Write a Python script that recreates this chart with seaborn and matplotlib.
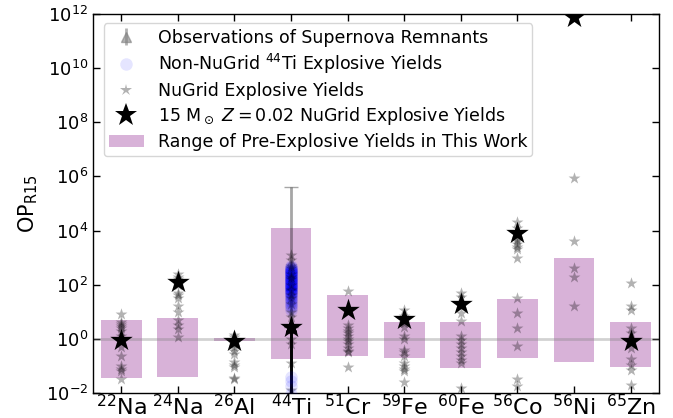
import numpy as np
import pandas as pd
import matplotlib
matplotlib.use("Agg")
import matplotlib.pyplot as plt
import seaborn as sns
from matplotlib.lines import Line2D
from matplotlib.patches import Patch

sns.set_style("ticks")
plt.rcParams['font.family'] = ['DejaVu Sans']
plt.rcParams['mathtext.fontset'] = 'dejavusans'
plt.rcParams['text.color'] = 'black'
plt.rcParams['axes.labelcolor'] = 'black'
plt.rcParams['xtick.color'] = 'black'
plt.rcParams['ytick.color'] = 'black'

# ---------------- data (log10 of OP_R15) ----------------
isotopes = [r'$^{22}$Na', r'$^{24}$Na', r'$^{26}$Al', r'$^{44}$Ti', r'$^{51}$Cr',
            r'$^{59}$Fe', r'$^{60}$Fe', r'$^{56}$Co', r'$^{56}$Ni', r'$^{65}$Zn']

range_lo = [-1.46, -1.42, -0.09, -0.74, -0.63, -0.72, -1.09, -0.72, -0.87, -1.04]
range_hi = [0.70, 0.78, 0.02, 4.11, 1.62, 0.61, 0.62, 1.46, 3.00, 0.62]

star15 = [-0.04, 2.11, -0.07, 0.45, 1.07, 0.72, 1.28, 3.90, 11.88, -0.07]

nugrid_na22 = [0.92, 0.62, 0.55, 0.48, 0.40, 0.30, 0.10, -0.30, -0.65, -1.00, -1.10, -1.20, -1.50]
nugrid_na24 = [2.40, 2.30, 2.20, 2.00, 1.70, 1.60, 1.50, 1.20, 1.00, 0.70, 0.50, 0.35, 0.05]
nugrid_al26 = [0.15, 0.05, -0.20, -0.30, -0.45, -0.55, -0.85, -0.95, -1.05, -1.45, -1.50]
nugrid_ti44 = [3.10, 2.90, 2.70, 2.60, 2.40, 2.30, 2.20, 2.00, 1.80, 1.60, 1.50, 1.30, 1.00,
               0.80, 0.00, -0.20, -0.90, -1.90]
nugrid_cr51 = [1.75, 0.50, 0.40, 0.30, 0.20, 0.10, 0.00, -0.10, -0.20, -0.35, -0.45, -0.50, -1.05]
nugrid_fe59 = [1.05, 0.85, 0.60, 0.45, 0.10, 0.00, -0.40, -0.50, -0.65, -0.90, -1.00, -1.10, -1.20, -1.60]
nugrid_fe60 = [1.70, 1.55, 1.20, 0.95, 0.65, 0.10, -0.05, -0.20, -0.35, -0.50, -0.65, -0.80, -0.90, -1.80]
nugrid_co56 = [4.30, 4.10, 3.70, 3.60, 3.50, 3.40, 3.30, 3.00, 1.50, 0.95, 0.40, -0.25, -1.50, -1.75]
nugrid_ni56 = [5.93, 3.62, 2.60, 2.30, 1.20]
nugrid_zn65 = [2.05, 1.20, 1.05, 0.40, 0.20, -0.35, -0.75, -0.95, -1.15, -1.70]

nonnugrid_ti44 = [2.70, 2.66, 2.63, 2.60, 2.58, 2.56, 2.54, 2.52, 2.50, 2.48, 2.46, 2.44,
                  2.42, 2.40, 2.38, 2.36, 2.34, 2.32, 2.30, 2.28, 2.26, 2.24, 2.22, 2.20,
                  2.18, 2.16, 2.14, 2.12, 2.10, 2.08, 2.06, 2.04, 2.02, 2.00, 1.98, 1.96,
                  1.94, 1.92, 1.90, 1.88, 1.86, 1.84, 1.82, 1.80, 1.78, 1.76, 1.74, 1.72,
                  1.70, 1.67, 1.64, 1.61, 1.58, 1.55, 1.52, 1.48, 1.44, 1.40, 1.35, 1.30,
                  1.25, 1.20, 1.12, 1.05, 2.35, 2.25, 2.15, 2.05, 1.95, 1.85, 2.45, 2.55,
                  -1.40, -1.55, -1.75, -2.05]

# observations of supernova remnants (44Ti): central value, lower, upper (log10)
obs_val = [2.00, 0.45, 0.45, 0.40, 0.45, 0.42, 0.45, 0.44, 0.45]
obs_lo = [-4.0, -4.0, -4.0, -4.0, -4.0, -4.0, -4.0, -4.0, -4.0]
obs_hi = [5.62, 0.50, 0.48, 0.45, 0.50, 0.47, 0.46, 0.49, 0.50]

# ---------------- build tables ----------------
nugrid_all = [nugrid_na22, nugrid_na24, nugrid_al26, nugrid_ti44, nugrid_cr51,
              nugrid_fe59, nugrid_fe60, nugrid_co56, nugrid_ni56, nugrid_zn65]
rows = []
for iso, vals in zip(isotopes, nugrid_all):
    for v in vals:
        rows.append((iso, 10.0 ** v))
df_nugrid = pd.DataFrame(rows, columns=['isotope', 'op'])
df_star = pd.DataFrame({'isotope': isotopes, 'op': 10.0 ** np.array(star15)})
df_blue = pd.DataFrame({'isotope': [isotopes[3]] * len(nonnugrid_ti44),
                        'op': 10.0 ** np.array(nonnugrid_ti44)})

fig = plt.figure(figsize=(6.73, 4.18), dpi=100)
ax = fig.add_axes([0.138, 0.06, 0.841, 0.9065])
ax.set_yscale('log')

x = np.arange(len(isotopes))
lo = 10.0 ** np.array(range_lo)
hi = 10.0 ** np.array(range_hi)
ax.bar(x, hi - lo, bottom=lo, width=0.72, color='purple', alpha=0.3, linewidth=0, zorder=1)

ax.axhline(1.0, color='gray', alpha=0.35, lw=2, zorder=1.5)

# observations
ti_x = 3
for v, l, h in zip(obs_val, obs_lo, obs_hi):
    ax.errorbar([ti_x], [10 ** v], yerr=[[10 ** v - 10 ** l], [10 ** h - 10 ** v]],
                fmt='^', color='k', alpha=0.35, capsize=5, ms=7, lw=2, zorder=2)

sns.stripplot(data=df_blue, x='isotope', y='op', order=isotopes, jitter=False,
              color='blue', alpha=0.1, size=9, marker='o', linewidth=0, ax=ax, zorder=3)
sns.stripplot(data=df_nugrid, x='isotope', y='op', order=isotopes, jitter=False,
              color='k', alpha=0.3, size=9, marker='*', linewidth=0, ax=ax, zorder=4)
sns.stripplot(data=df_star, x='isotope', y='op', order=isotopes, jitter=False,
              color='k', alpha=1.0, size=17, marker='*', linewidth=0, ax=ax, zorder=5)

ax.set_xlim(-0.5, 9.5)
ax.set_ylim(1e-2, 1e12)
ax.set_yticks([10.0 ** k for k in range(-2, 13, 2)])
ax.yaxis.set_minor_locator(matplotlib.ticker.NullLocator())
ax.set_xticks(x)
ax.set_xticklabels(isotopes, fontsize=16)
ax.tick_params(axis='y', labelsize=13)
ax.tick_params(axis='x', pad=1)
ax.tick_params(direction='in', top=True, right=True, length=5, width=1, colors='black')
ax.set_xlabel('')
ax.set_ylabel(r'OP$_{\rm R15}$', fontsize=15, color='black')
for s in ax.spines.values():
    s.set_visible(True)
    s.set_color('black')
    s.set_linewidth(1)

# legend
eb = ax.errorbar([], [], yerr=[], fmt='^', color='gray', alpha=0.6, capsize=4, ms=7, lw=2)
handles = [
    eb,
    Line2D([], [], ls='none', marker='o', color='blue', alpha=0.1, ms=9, mew=0),
    Line2D([], [], ls='none', marker='*', color='k', alpha=0.3, ms=9, mew=0),
    Line2D([], [], ls='none', marker='*', color='k', ms=17, mew=0),
    Patch(facecolor='purple', alpha=0.3, linewidth=0),
]
labels = ['Observations of Supernova Remnants',
          r'Non-NuGrid $^{44}$Ti Explosive Yields',
          'NuGrid Explosive Yields',
          r'15 M$_\odot$ $Z=0.02$ NuGrid Explosive Yields',
          'Range of Pre-Explosive Yields in This Work']
leg = ax.legend(handles, labels, loc='upper left', fontsize=12.5, frameon=True,
                fancybox=True, framealpha=0.8, edgecolor='#cccccc', handlelength=2,
                borderpad=0.3, labelspacing=0.32, handletextpad=0.8,
                bbox_to_anchor=(0.004, 0.998))
for t in leg.get_texts():
    t.set_color('black')

fig.savefig('out.png', dpi=100)
